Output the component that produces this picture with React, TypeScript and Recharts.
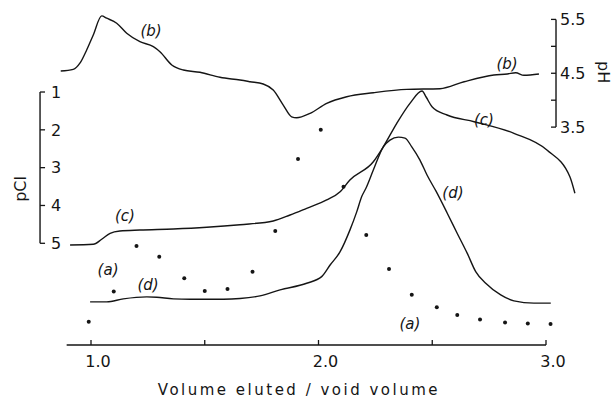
import React from 'react';
import { ComposedChart, Line, XAxis, YAxis, ReferenceLine, ReferenceDot } from 'recharts';

const FONT = '"DejaVu Sans", sans-serif';
const INK = '#151515';

// x = volume eluted / void volume
// (b) pH trace
const curveB: [number, number][] = [
  [0.867, 4.542], [0.922, 4.573], [0.952, 4.691], [0.981, 4.933], [1.010, 5.212],
  [1.047, 5.565], [1.069, 5.522], [1.113, 5.429], [1.157, 5.243], [1.215, 5.087],
  [1.274, 4.994], [1.303, 4.901], [1.355, 4.653], [1.406, 4.560], [1.479, 4.518],
  [1.567, 4.425], [1.655, 4.374], [1.699, 4.343], [1.757, 4.300], [1.801, 4.188],
  [1.845, 3.909], [1.882, 3.692], [1.904, 3.673], [1.963, 3.755], [2.036, 3.941],
  [2.124, 4.064], [2.241, 4.138], [2.388, 4.201], [2.534, 4.213], [2.640, 4.343],
  [2.771, 4.467], [2.830, 4.486], [2.867, 4.510], [2.903, 4.462], [2.969, 4.486],
];

// (c) pCl trace
const curveC: [number, number][] = [
  [0.908, 5.045], [1.010, 5.026], [1.047, 4.894], [1.084, 4.736], [1.127, 4.675],
  [1.215, 4.648], [1.362, 4.622], [1.509, 4.577], [1.655, 4.508], [1.801, 4.410],
  [1.875, 4.252], [1.948, 4.075], [2.036, 3.855], [2.095, 3.636], [2.138, 3.327],
  [2.241, 2.843], [2.285, 2.446], [2.344, 1.827], [2.402, 1.299], [2.455, 0.974],
  [2.473, 1.132], [2.499, 1.388], [2.565, 1.608], [2.684, 1.785], [2.859, 2.092],
  [3.004, 2.533], [3.105, 3.239], [3.127, 3.678],
];

// (d) absorbance trace (relative units, 0-100)
const curveD: [number, number][] = [
  [0.996, 13.0], [1.069, 13.0], [1.142, 13.9], [1.245, 14.5], [1.289, 14.4],
  [1.362, 13.9], [1.435, 13.8], [1.582, 13.8], [1.655, 14.0], [1.743, 14.8],
  [1.831, 16.6], [1.948, 18.6], [2.014, 20.6], [2.051, 24.1], [2.095, 28.1],
  [2.138, 34.6], [2.168, 40.1], [2.190, 44.7], [2.209, 47.3], [2.241, 52.7],
  [2.285, 59.7], [2.314, 61.7], [2.351, 62.6], [2.380, 62.3], [2.410, 59.7],
  [2.446, 55.7], [2.477, 51.2], [2.516, 46.4], [2.566, 39.7], [2.610, 33.6],
  [2.654, 27.6], [2.691, 22.1], [2.735, 18.6], [2.801, 15.1], [2.859, 13.3],
  [2.947, 12.6], [3.021, 12.6],
];

// (a) measured points (relative units)
const pointsA: [number, number][] = [
  [0.99, 7.0], [1.10, 16.1], [1.20, 29.8], [1.30, 26.6], [1.41, 20.1],
  [1.50, 16.3], [1.60, 16.9], [1.71, 22.1], [1.81, 34.3], [1.91, 56.0],
  [2.01, 64.8], [2.11, 47.7], [2.21, 33.1], [2.31, 22.9], [2.41, 15.1],
  [2.52, 11.4], [2.61, 9.0], [2.71, 7.7], [2.82, 6.8], [2.92, 6.5], [3.02, 6.3],
];

const xTickValues = [1, 1.5, 2, 2.5, 3];
const xTickLabels = ['1.0', '', '2.0', '', '3.0'];
const pClTicks = [1, 2, 3, 4, 5];
const pHTicks = [3.5, 4, 4.5, 5, 5.5];
const pHTickLabels = ['3.5', '', '4.5', '', '5.5'];

// annotation texts: [x, relative-y, text]
const curveLabels: [number, number, string][] = [
  [1.264, 94.6, '(b)'],
  [2.829, 84.6, '(b)'],
  [2.727, 67.8, '(c)'],
  [1.149, 38.9, '(c)'],
  [1.075, 22.6, '(a)'],
  [1.251, 18.1, '(d)'],
  [2.591, 45.8, '(d)'],
  [2.402, 6.3, '(a)'],
];

const xTitle = 'Volume eluted / void volume';
const pClTitle = 'pCl';
const pHTitle = 'pH';

const dataB = curveB.map(([x, ph]) => ({ x, ph }));
const dataC = curveC.map(([x, pcl]) => ({ x, pcl }));
const dataD = curveD.map(([x, abs]) => ({ x, abs }));
const dataA = pointsA.map(([x, abs]) => ({ x, abs }));

const PCL_AXIS_X = 0.776;
const PH_AXIS_X = 3.044;
const TICK = 0.022;

const XTick = (props: any) => {
  const { x, y, payload } = props;
  const i = xTickValues.indexOf(payload.value);
  const label = i >= 0 ? xTickLabels[i] : '';
  return (
    <g>
      <line x1={x} y1={y} x2={x} y2={y - 5} stroke={INK} strokeWidth={1.3} />
      {label ? (
        <text x={x + 7} y={y + 22} textAnchor="middle" fontSize={16} fontFamily={FONT} fill={INK}>
          {label}
        </text>
      ) : null}
    </g>
  );
};

const textStyle = { fill: INK, fontSize: 16, fontFamily: FONT };

export default function App() {
  return (
    <div style={{ position: 'absolute', left: 0, top: 0, width: 614, height: 404, background: '#fff' }}>
      <ComposedChart
        width={614}
        height={404}
        margin={{ top: 13, right: 2.025, bottom: 0, left: 34.125 }}
      >
        <XAxis
          type="number"
          dataKey="x"
          domain={[0.75, 3.29]}
          ticks={xTickValues}
          interval={0}
          tickSize={0}
          tickMargin={0}
          axisLine={false}
          tick={XTick}
          height={59}
        />
        <YAxis yAxisId="ph" type="number" hide domain={[-0.546, 5.619]} />
        <YAxis yAxisId="pcl" type="number" hide reversed domain={[-1.089, 7.689]} />
        <YAxis yAxisId="abs" type="number" hide domain={[0, 100]} />

        {/* x axis line */}
        <ReferenceLine
          yAxisId="abs"
          segment={[{ x: 0.893, y: 0 }, { x: 3.0, y: 0 }]}
          stroke={INK}
          strokeWidth={1.3}
          ifOverflow="visible"
        />

        {/* pCl axis */}
        <ReferenceLine
          yAxisId="pcl"
          segment={[{ x: PCL_AXIS_X, y: 1 }, { x: PCL_AXIS_X, y: 5 }]}
          stroke={INK}
          strokeWidth={1.4}
          ifOverflow="visible"
        />
        {pClTicks.map((v) => (
          <ReferenceLine
            key={'pcl' + v}
            yAxisId="pcl"
            segment={[{ x: PCL_AXIS_X, y: v }, { x: PCL_AXIS_X + TICK, y: v }]}
            stroke={INK}
            strokeWidth={1.3}
            ifOverflow="visible"
            label={{ value: String(v), position: 'right', offset: 6, ...textStyle }}
          />
        ))}

        {/* pH axis */}
        <ReferenceLine
          yAxisId="ph"
          segment={[{ x: PH_AXIS_X, y: 3.5 }, { x: PH_AXIS_X, y: 5.5 }]}
          stroke={INK}
          strokeWidth={1.4}
          ifOverflow="visible"
        />
        {pHTicks.map((v, i) => (
          <ReferenceLine
            key={'ph' + v}
            yAxisId="ph"
            segment={[{ x: PH_AXIS_X - TICK, y: v }, { x: PH_AXIS_X, y: v }]}
            stroke={INK}
            strokeWidth={1.3}
            ifOverflow="visible"
            label={pHTickLabels[i] ? { value: pHTickLabels[i], position: 'right', offset: 4, ...textStyle } : undefined}
          />
        ))}

        <Line
          data={dataB}
          yAxisId="ph"
          dataKey="ph"
          type="monotone"
          stroke={INK}
          strokeWidth={1.4}
          dot={false}
          isAnimationActive={false}
        />
        <Line
          data={dataC}
          yAxisId="pcl"
          dataKey="pcl"
          type="monotone"
          stroke={INK}
          strokeWidth={1.4}
          dot={false}
          isAnimationActive={false}
        />
        <Line
          data={dataD}
          yAxisId="abs"
          dataKey="abs"
          type="monotone"
          stroke={INK}
          strokeWidth={1.4}
          dot={false}
          isAnimationActive={false}
        />
        <Line
          data={dataA}
          yAxisId="abs"
          dataKey="abs"
          stroke="none"
          dot={{ r: 2, fill: INK, stroke: 'none' }}
          isAnimationActive={false}
        />

        {curveLabels.map(([x, y, t], i) => (
          <ReferenceDot
            key={'lab' + i}
            yAxisId="abs"
            x={x}
            y={y}
            r={0.5}
            fill="none"
            stroke="none"
            ifOverflow="visible"
            label={{ value: t, position: 'center', fill: INK, fontSize: 15, fontFamily: FONT, fontStyle: 'italic' }}
          />
        ))}

        <ReferenceDot
          yAxisId="abs"
          x={1.914}
          y={-13.5}
          r={0.5}
          fill="none"
          stroke="none"
          ifOverflow="visible"
          label={{ value: xTitle, position: 'center', fill: INK, fontSize: 15, fontFamily: FONT, letterSpacing: 2.5 }}
        />
        <ReferenceDot
          yAxisId="abs"
          x={0.688}
          y={47}
          r={0.5}
          fill="none"
          stroke="none"
          ifOverflow="visible"
          label={{ value: pClTitle, position: 'center', angle: -90, ...textStyle }}
        />
        <ReferenceDot
          yAxisId="abs"
          x={3.255}
          y={82.2}
          r={0.5}
          fill="none"
          stroke="none"
          ifOverflow="visible"
          label={{ value: pHTitle, position: 'center', angle: 90, ...textStyle }}
        />
      </ComposedChart>
    </div>
  );
}
